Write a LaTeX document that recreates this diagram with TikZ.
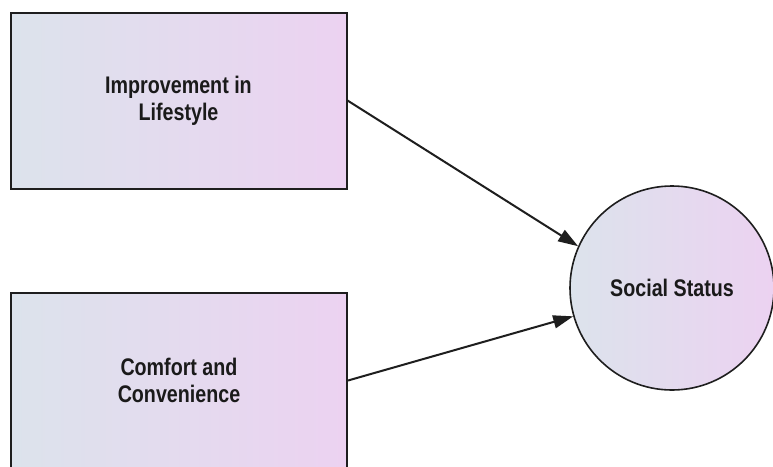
\documentclass[tikz,border=0pt]{standalone}
\usepackage{fontspec}
\setmainfont{Liberation Sans}[FakeStretch=0.82]
\usetikzlibrary{arrows.meta}
\definecolor{fillL}{HTML}{DCE3EC}
\definecolor{fillR}{HTML}{ECD2F1}
\definecolor{edge}{HTML}{1E1E1E}
\definecolor{ink}{HTML}{1A1A1A}
\begin{document}
\begin{tikzpicture}[x=1pt,y=-1pt,
  factor/.style={draw=edge, line width=2pt, rectangle,
    left color=fillL, right color=fillR,
    minimum width=336pt, minimum height=176pt, inner sep=0pt,
    align=center, text=ink, font=\bfseries\fontsize{24}{27}\selectfont},
  outcome/.style={draw=edge, line width=1.6pt, circle,
    left color=fillL, right color=fillR,
    minimum size=204pt, inner sep=0pt,
    align=center, text=ink, font=\bfseries\fontsize{24}{27}\selectfont},
  link/.style={draw=edge, line width=2pt,
    -{Triangle[length=20pt,width=13pt]}}]
\clip (0,0) rectangle (773,466);
\fill[white] (0,0) rectangle (773,466);
\node[factor] (life) at (178.5,100.5) {Improvement in\\Lifestyle};
\node[factor] (comfort) at (179,380.5) {Comfort and\\Convenience};
\node[outcome] (status) at (672,288) {Social Status};
\draw[link] (life.east) -- (status.156);
\draw[link] (comfort.east) -- (status.196);
\end{tikzpicture}
\end{document}
